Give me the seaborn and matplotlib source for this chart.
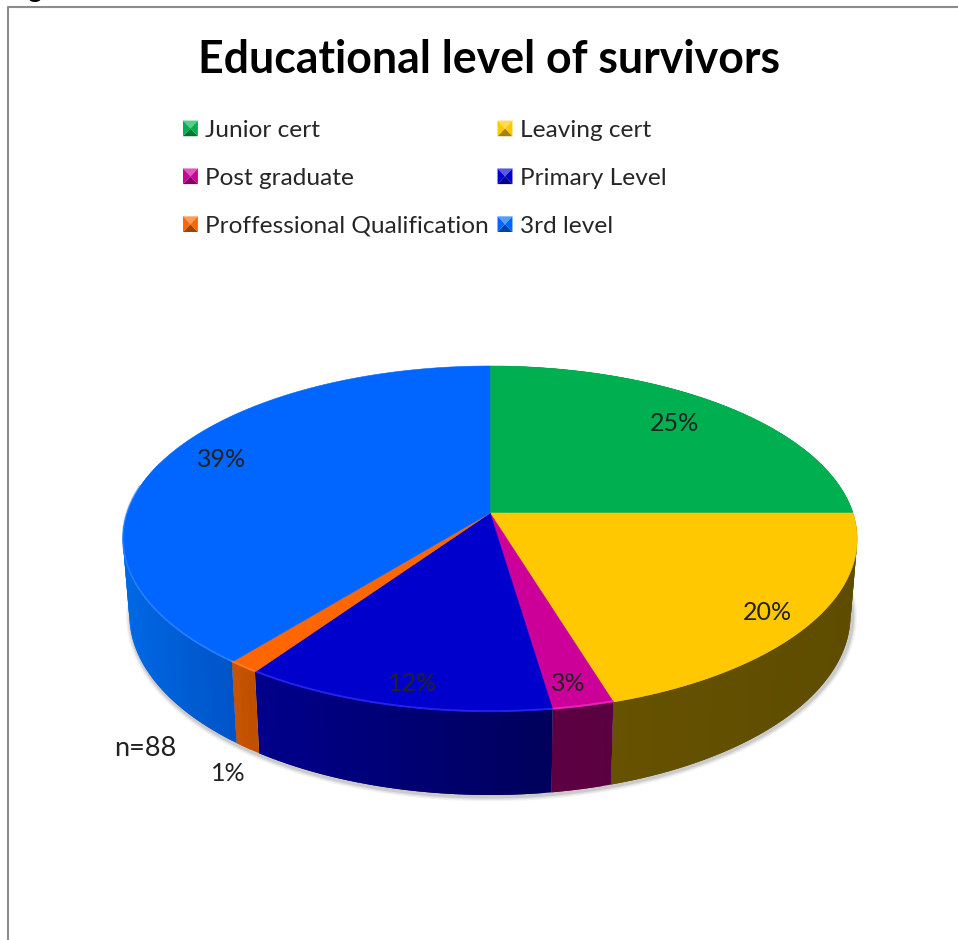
import numpy as np
import seaborn as sns
import matplotlib.pyplot as plt
from matplotlib.legend_handler import HandlerBase
from matplotlib.patches import Patch, Polygon

categories = ['Junior cert', 'Leaving cert', 'Post graduate', 'Primary Level',
              'Proffessional Qualification', '3rd level']
shares = [25.0, 20.3, 2.35, 11.95, 1.2, 39.2]
pct_labels = ['25%', '20%', '3%', '12%', '1%', '39%']
top_colors = ['#00B050', '#FFC800', '#CC0099', '#0000CC', '#FF6600', '#0066FF']
side_left = ['#007a38', '#665200', '#5e0044', '#00008c', '#c85500', '#0068e4']
side_right = ['#007a38', '#5e4c00', '#5a0040', '#00005c', '#c05000', '#0054c8']

sns.set_theme(style='white')
plt.rcParams['font.family'] = ['Lato', 'DejaVu Sans']
palette = sns.color_palette(top_colors)

fig = plt.figure(figsize=(9.58, 9.4), dpi=100)
ax = fig.add_axes([0, 0, 1, 1])
ax.set_xlim(0, 958)
ax.set_ylim(940, 0)
ax.axis('off')


# circle seen in perspective, theta clockwise from 12 o'clock
def rim(theta):
    x, y = np.sin(theta), np.cos(theta)
    d = 1 + 0.1503 * y
    return 363 * x / d, 169.1 * y / d


def top_xy(theta):
    px, py = rim(theta)
    return 490 + px, 513 - py


def bottom_xy(theta):
    px, py = rim(theta)
    return 490 + 0.982 * px, 513 - (1.04 * py - 75)


edges = np.concatenate([[0], np.cumsum(shares)]) / sum(shares) * 2 * np.pi

# soft shadow under the front edge
th = np.linspace(np.pi * 0.42, np.pi * 1.58, 200)
bx, by = bottom_xy(th)
for lw, alpha in [(7, 0.06), (5, 0.09), (3, 0.14)]:
    ax.plot(bx + 1.5 * np.sin(th) ** 2, by + 1.5, color='#404040', lw=lw, alpha=alpha,
            solid_capstyle='butt', zorder=1)

# side walls of the front half, in strips that overlap the next one to hide seams
for i in range(len(shares)):
    end = min(edges[i + 1], np.pi * 1.6)
    if end <= edges[i]:
        continue
    th = np.linspace(edges[i], end, max(int((end - edges[i]) * 60), 3))
    c0 = np.array(sns.color_palette([side_left[i]])[0])
    c1 = np.array(sns.color_palette([side_right[i]])[0])
    rim_x = top_xy(th)[0]
    for k in range(len(th) - 1):
        seg = th[k:k + 3]
        tx, ty = top_xy(seg)
        ux, uy = bottom_xy(seg[::-1])
        f = (rim_x[k] - rim_x.min()) / max(np.ptp(rim_x), 1)
        col = tuple(c0 * (1 - f) + c1 * f)
        ax.fill(np.r_[tx, ux], np.r_[ty, uy], color=col, lw=0, zorder=2 + i * 0.01)

# top face
for i in range(len(shares)):
    th = np.linspace(edges[i], edges[i + 1], 160)
    tx, ty = top_xy(th)
    ax.fill(np.r_[490, tx], np.r_[513, ty], color=palette[i], lw=0.4, zorder=3)

# light bevel along the front of the top face
for i in range(len(shares)):
    a = max(edges[i], np.pi * 0.52)
    b = min(edges[i + 1], np.pi * 1.55)
    if b <= a or i == 1:
        continue
    th = np.linspace(a, b, 120)
    tx, ty = top_xy(th)
    light = sns.set_hls_values(top_colors[i], l=0.62)
    ax.plot(tx, ty - 1, color=light, lw=1.2, alpha=0.6, zorder=4)

# percentage labels
label_pos = [(675, 422), (767, 611), (568, 682), (413, 682), (228, 772), (222, 458)]
for txt, (lx, ly) in zip(pct_labels, label_pos):
    ax.text(lx, ly + 1.5, txt, fontsize=18, color='#222222', ha='center', va='center', zorder=5)
ax.text(145, 748, 'n=88', fontsize=19.5, color='#222222', ha='center', va='center')

ax.text(489, 60, 'Educational level of survivors', fontsize=32.1, fontweight='bold',
        color='black', ha='center', va='center')


# bevelled legend key
class BevelKey(HandlerBase):
    def create_artists(self, legend, orig, xd, yd, w, h, fontsize, trans):
        base = np.array(orig.get_facecolor()[:3])
        light = base + (1 - base) * 0.35
        dark = base * 0.65
        x0, y0 = -xd, -yd
        x1, y1 = x0 + w, y0 + h
        xm, ym = (x0 + x1) / 2, (y0 + y1) / 2
        parts = [([(x0, y1), (x1, y1), (xm, ym)], light),
                 ([(x0, y0), (x1, y0), (xm, ym)], dark),
                 ([(x0, y0), (x0, y1), (xm, ym)], base),
                 ([(x1, y0), (x1, y1), (xm, ym)], base)]
        return [Polygon(p, closed=True, facecolor=c, edgecolor='none', transform=trans)
                for p, c in parts]


# matplotlib fills columns first, the chart reads across rows
legend_order = [0, 2, 4, 1, 3, 5]
handles = [Patch(facecolor=top_colors[i]) for i in legend_order]
labels = [categories[i] for i in legend_order]
ax.legend(handles, labels, ncols=2, frameon=False, fontsize=17.6,
          loc='upper left', bbox_to_anchor=(183, 120), bbox_transform=ax.transData,
          borderpad=0, borderaxespad=0, handlelength=0.61, handleheight=0.61,
          handletextpad=0.29, columnspacing=0.36, labelspacing=1.10,
          labelcolor='#262626', handler_map={Patch: BevelKey()})

# frame of the pasted picture
ax.plot([8.5, 8.5, 958], [940, 6.5, 6.5], color='#8c8c8c', lw=1.5, zorder=6)
# tail of the caption cut off by the top edge
ax.text(34, -3, 'g', fontsize=20, color='black', ha='center', va='baseline', clip_on=True)

sns.despine(ax=ax, left=True, bottom=True)
fig.savefig('out.png', dpi=100, facecolor='white')
